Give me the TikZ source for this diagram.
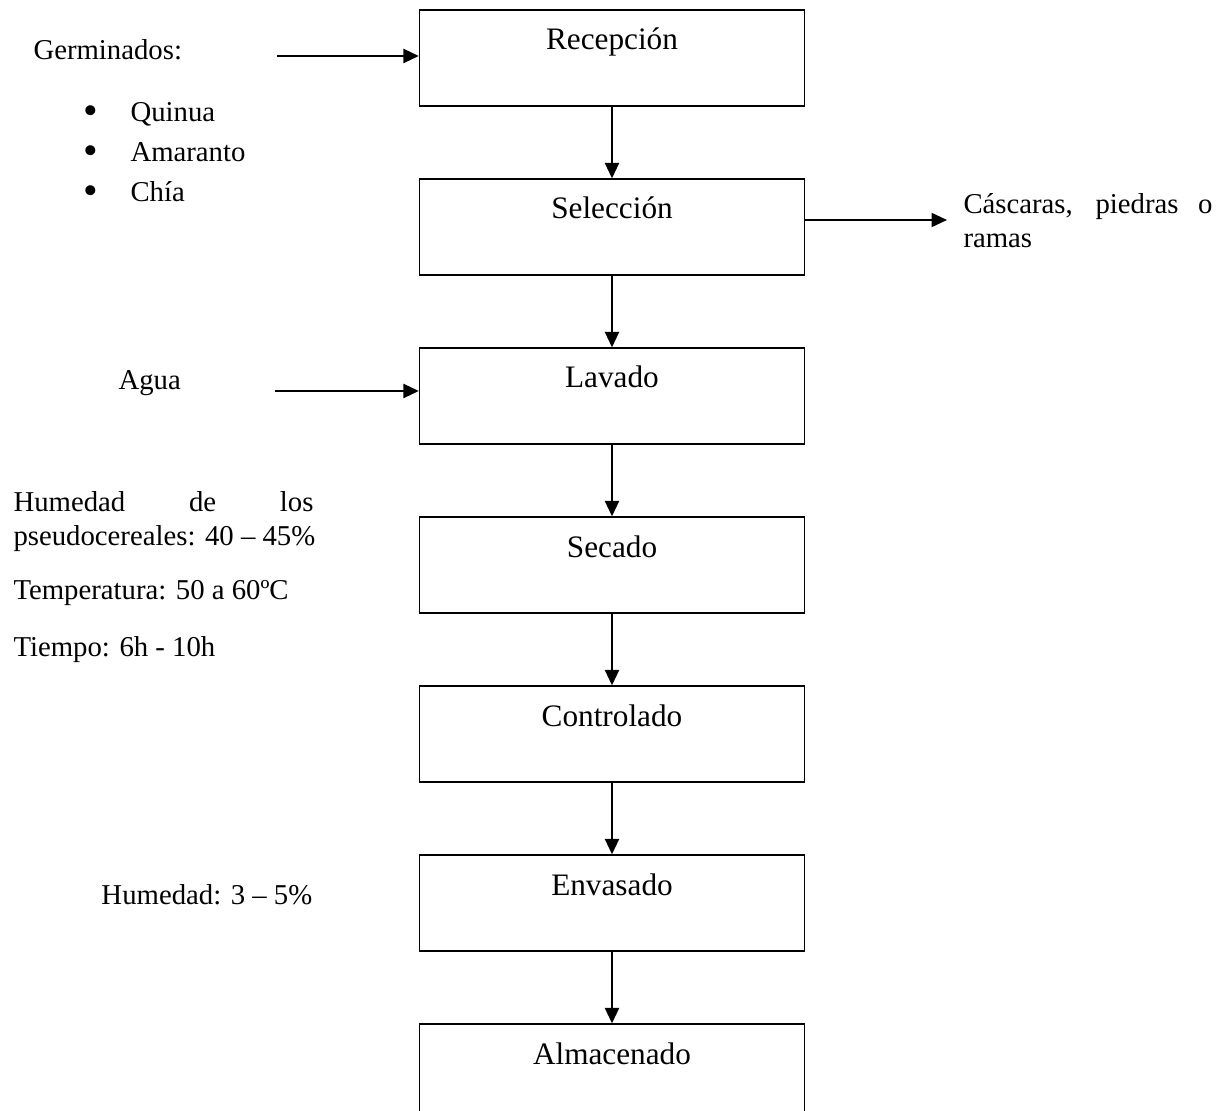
\documentclass[tikz,border=0pt]{standalone}
\usepackage{fontspec}
\setmainfont{Liberation Serif}
\usetikzlibrary{arrows.meta,positioning}
\hyphenpenalty=10000
\tolerance=10000
\newcommand{\boxfont}{\fontsize{12.5}{15}\selectfont}
\newcommand{\sidefont}{\fontsize{11.5}{13.6}\selectfont}
\newcommand{\bulitem}[1]{\makebox[18.8pt][l]{\raisebox{-0.9pt}{\scalebox{1.45}{\textbullet}}}#1}

\begin{document}
\begin{tikzpicture}[x=0.4pt,y=-0.4pt,node distance=28.7pt,>={Triangle[length=6.2pt,width=5.6pt]}]
\tikzset{
  procbox/.style={draw,line width=0.5pt,minimum width=154pt,inner xsep=0pt,inner ysep=0pt,
                  text height=16pt,text depth=22.4pt,font=\boxfont},
  flowline/.style={->,line width=0.9pt},
  sidetext/.style={inner sep=0pt,font=\sidefont},
  sidepar/.style={sidetext,align=justify}
}
\useasboundingbox (0,0) rectangle (1229,1111);
\clip (0,0) rectangle (1229,1111);
% process column
\node[procbox] (recep) at (612,58) {Recepción};
\node[procbox,below=of recep] (selec) {Selección};
\node[procbox,below=of selec] (lavado) {Lavado};
\node[procbox,below=of lavado] (secado) {Secado};
\node[procbox,below=of secado] (control) {Controlado};
\node[procbox,below=of control] (envasado) {Envasado};
\node[procbox,below=of envasado] (almacen) {Almacenado};
% side notes
\node[sidetext,anchor=base west] (germ) at (33,60) {Germinados:};
\node[sidetext,anchor=base west] (quinua) at (83,122) {\bulitem{Quinua}};
\node[sidetext,anchor=base west] (amaranto) at (83,162) {\bulitem{Amaranto}};
\node[sidetext,anchor=base west] (chia) at (83,202) {\bulitem{Chía}};
\node[sidetext,anchor=base west] (agua) at (118,390) {Agua};
\node[sidepar,text width=120pt,anchor=base west] (humpseudo) at (13,512)
  {Humedad de los\linebreak\mbox{pseudocereales: 40 – 45\%}};
\node[sidetext,anchor=base west] (temp) at (13,600) {Temperatura: 50 a 60ºC};
\node[sidetext,anchor=base west] (tiempo) at (13,657) {Tiempo: 6h - 10h};
\node[sidetext,anchor=base west] (humfinal) at (101,905) {Humedad: 3 – 5\%};
\node[sidepar,text width=99.6pt,anchor=base west] (residuos) at (963,214) {Cáscaras, piedras o ramas};
% connectors
\coordinate (germin) at (277,56);
\coordinate (aguain) at (275,391);
\coordinate (residout) at (947,220);
\draw[flowline] (germin)--(germin -| recep.west);
\draw[flowline] (aguain)--(aguain -| lavado.west);
\draw[flowline] (selec.east |- residout)--(residout);
\draw[flowline] (recep)--(selec);
\draw[flowline] (selec)--(lavado);
\draw[flowline] (lavado)--(secado);
\draw[flowline] (secado)--(control);
\draw[flowline] (control)--(envasado);
\draw[flowline] (envasado)--(almacen);
\end{tikzpicture}
\end{document}
